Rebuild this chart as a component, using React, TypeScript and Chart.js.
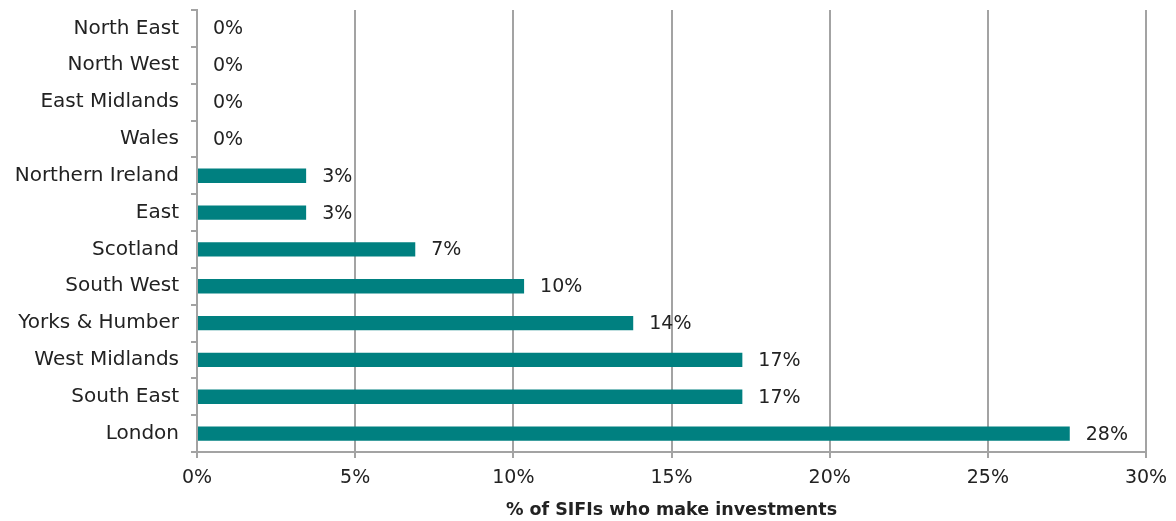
import React, { useEffect, useRef } from "react";
import { Chart, registerables } from "chart.js";

Chart.register(...registerables);

const categories = [
  "North East",
  "North West",
  "East Midlands",
  "Wales",
  "Northern Ireland",
  "East",
  "Scotland",
  "South West",
  "Yorks & Humber",
  "West Midlands",
  "South East",
  "London",
];
const shares = [0, 0, 0, 0, 3.45, 3.45, 6.9, 10.34, 13.79, 17.24, 17.24, 27.59];
const xTicks = [0, 5, 10, 15, 20, 25, 30];
const axisTitle = "% of SIFIs who make investments";

const FONT = "'DejaVu Sans', sans-serif";
const GRID = "#A3A3A3";

const valueLabels = {
  id: "valueLabels",
  afterDatasetsDraw(chart: any) {
    const ctx = chart.ctx;
    const meta = chart.getDatasetMeta(0);
    ctx.save();
    ctx.font = "19px " + FONT;
    ctx.fillStyle = "#222";
    ctx.textAlign = "left";
    ctx.textBaseline = "middle";
    meta.data.forEach((bar: any, i: number) => {
      const v = shares[i];
      ctx.fillText(Math.round(v) + "%", bar.x + 16, bar.y + 1);
    });
    ctx.restore();
  },
};

export default function App() {
  const ref = useRef<HTMLCanvasElement | null>(null);
  useEffect(() => {
    document.body.style.margin = "0";
    const chart = new Chart(ref.current!, {
      type: "bar",
      data: {
        labels: categories,
        datasets: [
          {
            data: shares,
            backgroundColor: "#008080",
            barPercentage: 0.39,
            categoryPercentage: 1,
          },
        ],
      },
      options: {
        indexAxis: "y",
        animation: false,
        responsive: false,
        layout: { padding: { top: 10, right: 30, left: 0, bottom: 0 } },
        plugins: {
          legend: { display: false },
          tooltip: { enabled: false },
        },
        scales: {
          x: {
            min: 0,
            max: 30,
            afterBuildTicks(scale: any) {
              scale.ticks = xTicks.map((v) => ({ value: v }));
            },
            afterFit(scale: any) {
              scale.height = 69;
              scale.paddingLeft = 0;
              scale.paddingRight = 0;
            },
            ticks: {
              callback: (v: any) => v + "%",
              color: "#222",
              font: { family: FONT, size: 19 },
              padding: 9,
              maxRotation: 0,
            },
            grid: {
              color: GRID,
              lineWidth: 2,
              tickLength: 6,
              drawOnChartArea: true,
            },
            border: { color: GRID, width: 2 },
            title: {
              display: true,
              text: axisTitle,
              color: "#222",
              font: { family: FONT, size: 17.5, weight: "bold" },
              padding: { top: 4, bottom: 0 },
            },
          },
          y: {
            afterFit(scale: any) {
              scale.width = 197;
              scale.paddingTop = 0;
              scale.paddingBottom = 0;
            },
            ticks: {
              color: "#222",
              font: { family: FONT, size: 20 },
              padding: 12,
            },
            grid: {
              color: GRID,
              lineWidth: 2,
              drawOnChartArea: false,
              tickLength: 6,
              offset: true,
            },
            border: { color: GRID, width: 2 },
          },
        },
      },
      plugins: [valueLabels],
    });
    return () => chart.destroy();
  }, []);
  return <canvas ref={ref} width={1176} height={521} style={{ display: "block" }} />;
}
